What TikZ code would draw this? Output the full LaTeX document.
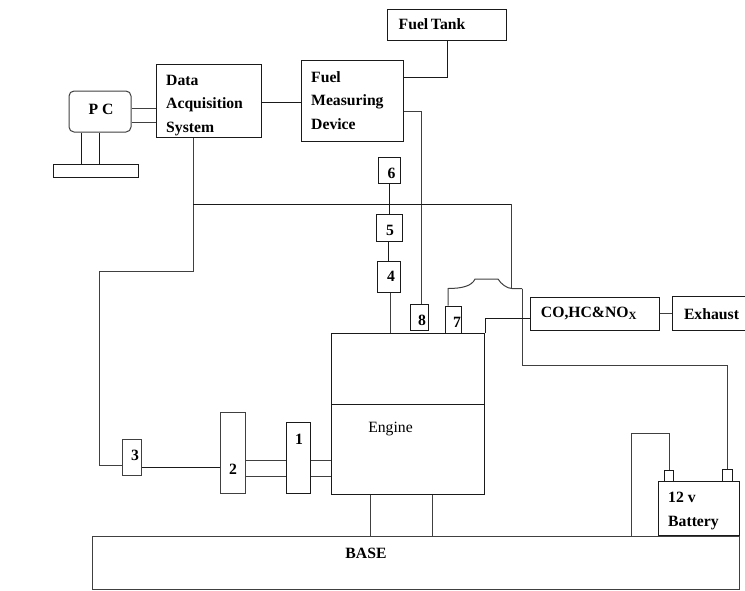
\documentclass[tikz,border=0pt]{standalone}
\usepackage{fontspec}
\setmainfont{Liberation Serif}
\usepackage{xcolor}
\usetikzlibrary{positioning}
\definecolor{cwire}{HTML}{1A1A1A}
\definecolor{cgrey}{HTML}{404040}
\tikzset{
  part/.style={draw=cwire,line width=1pt,fill=white,inner sep=0pt},
  greypart/.style={part,draw=cgrey,line width=1pt},
  tag/.style={font=\fontsize{15.7}{18}\selectfont\bfseries,inner sep=0pt,yshift=-1pt},
  para/.style={font=\fontsize{15.7}{23.5}\selectfont\bfseries,inner sep=0pt,align=left,anchor=north west},
  wire/.style={draw=cwire,line width=0.9pt},
  greywire/.style={draw=cgrey,line width=1pt}
}
\begin{document}
\begin{tikzpicture}[x=1pt,y=-1pt]
  \useasboundingbox (0,0) rectangle (745,590);
  % wires behind the boxes
  \coordinate (daqdrop) at (193,204);
  \coordinate (sensend) at (511.5,204);
  \coordinate (arcstart) at (448,288.5);
  \coordinate (arcend) at (522,288.5);
  \coordinate (daqturn) at (193,271);
  \coordinate (leftdown) at (99,271);
  \coordinate (leftturn) at (99,465);
  \coordinate (battrun) at (522,365);
  \coordinate (battdown) at (727.5,365);
  \coordinate (negtop) at (669,433);
  \coordinate (negleft) at (631,433);
  \coordinate (negbase) at (631,536);
  \coordinate (cotee) at (485.5,318.5);
  \coordinate (tanktee) at (447,77);
  \coordinate (meastee) at (421,111);

  % boxes
  \node[part,minimum width=119pt,minimum height=31pt] (tank) at (446.5,24.5) {};
  \node[part,minimum width=105pt,minimum height=73pt] (daq) at (208.5,100.5) {};
  \node[part,minimum width=102pt,minimum height=81pt] (meas) at (352,100.5) {};
  \node[greypart,rounded corners=5pt,minimum width=62pt,minimum height=41pt] (pc) at (100,111.5) {};
  \node[part,minimum width=85pt,minimum height=13pt] (stand) at (95.5,170.5) {};
  \node[part,minimum width=21.5pt,minimum height=26.5pt] (b6) at (389.5,170.5) {};
  \node[part,minimum width=26pt,minimum height=27pt] (b5) at (389.5,227.5) {};
  \node[part,minimum width=23pt,minimum height=31pt] (b4) at (388.5,276.5) {};
  \node[part,minimum width=18pt,minimum height=26pt] (b8) at (419,317) {};
  \node[part,minimum width=16pt,minimum height=27pt] (b7) at (453,319.5) {};
  \node[part,minimum width=129pt,minimum height=33pt] (co) at (594.5,313.5) {};
  \node[part,minimum width=72.5pt,minimum height=34pt] (exhaust) at (708.75,313) {};
  \node[part,minimum width=153pt,minimum height=71pt] (engtop) at (407.5,368.5) {};
  \node[part,minimum width=153pt,minimum height=90pt] (engine) at (407.5,449) {};
  \node[part,minimum width=24pt,minimum height=71pt] (b1) at (298,457.5) {};
  \node[greypart,minimum width=25pt,minimum height=81pt] (b2) at (232.5,452.5) {};
  \node[greypart,minimum width=19pt,minimum height=36pt] (b3) at (131.5,457) {};
  \node[greypart,minimum width=647pt,minimum height=53pt] (base) at (415.5,562.5) {};
  \node[part,minimum width=81pt,minimum height=54pt] (battery) at (698.5,508) {};
  \node[part,minimum width=9pt,minimum height=11pt] (neg) at (668.5,475.5) {};
  \node[part,minimum width=10pt,minimum height=12pt] (pos) at (727,475) {};

  % texts
  \node[tag] (tanktext) at (432,23) {Fuel\,Tank};
  \node[para] (daqtext) at (166,75) {Data\\Acquisition\\System};
  \node[para] (meastext) at (311,71) {Fuel\\Measuring\\Device};
  \node[tag] (pctext) at (101,108) {P C};
  \node[tag] (t6) at (391.5,172) {6};
  \node[tag] (t5) at (390,229) {5};
  \node[tag] (t4) at (391,275) {4};
  \node[tag] (t8) at (422,319) {8};
  \node[tag] (t7) at (457,321) {7};
  \node[tag] (cotext) at (589,312) {CO,HC\&NO\textsubscript{X}};
  \node[tag] (exhausttext) at (711.5,313) {Exhaust};
  \node[font=\fontsize{15.7}{18}\selectfont,inner sep=0pt] (enginetext) at (390.5,429) {Engine};
  \node[tag] (t1) at (299,438) {1};
  \node[tag] (t2) at (233,468) {2};
  \node[tag] (t3) at (135,454) {3};
  \node[tag] (basetext) at (366,552) {BASE};
  \node[para] (batterytext) at (668,492) {12 v\\Battery};

  % connectors
  \draw[greywire] (pc.east |- 0,108) -- (daq.west |- 0,108);
  \draw[greywire] (pc.east |- 0,122) -- (daq.west |- 0,122);
  \draw[wire] (pc.south -| 81,0) -- (stand.north -| 81,0);
  \draw[wire] (pc.south -| 99,0) -- (stand.north -| 99,0);
  \draw[wire] (daq.east |- 0,102) -- (meas.west |- 0,102);
  \draw[wire] (tank.south -| tanktee) -- (tanktee) -- (meas.east |- tanktee);
  \draw[greywire] (meas.east |- meastee) -- (meastee) -- (b8.north -| meastee);
  \draw[greywire] (daq.south -| daqdrop) -- (daqturn) -- (leftdown) -- (leftturn) -- (b3.west |- leftturn);
  \draw[wire] (daqdrop) -- (sensend);
  \draw[wire] (b6.south) -- (b5.north);
  \draw[wire] (b5.south -| b4.north) -- (b4.north);
  \draw[greywire] (b4.south -| 390,0) -- (engtop.north -| 390,0);
  \draw[greywire] (sensend) -- (511.5,288.5);
  \draw[greywire] (b7.north -| arcstart) -- (arcstart)
    .. controls (462,288.5) and (472,286) .. (475,279) -- (498,279)
    .. controls (501,284) and (507,288.5) .. (512,288.5) -- (arcend);
  \draw[greywire] (arcend) -- (battrun) -- (battdown) -- (pos.north -| battdown);
  \draw[greywire] (neg.north -| negtop) -- (negtop) -- (negleft) -- (negbase);
  \draw[wire] (co.west |- cotee) -- (cotee) -- (engtop.north -| cotee);
  \draw[greywire] (co.east) -- (exhaust.west |- co.east);
  \draw[wire] (b3.east |- 0,467) -- (b2.west |- 0,467);
  \draw[greywire] (b2.east |- 0,460) -- (b1.west |- 0,460);
  \draw[greywire] (b2.east |- 0,476) -- (b1.west |- 0,476);
  \draw[greywire] (b1.east |- 0,460) -- (engine.west |- 0,460);
  \draw[greywire] (b1.east |- 0,476) -- (engine.west |- 0,476);
  \draw[greywire] (engine.south -| 370,0) -- (base.north -| 370,0);
  \draw[greywire] (engine.south -| 432,0) -- (base.north -| 432,0);
\end{tikzpicture}
\end{document}
